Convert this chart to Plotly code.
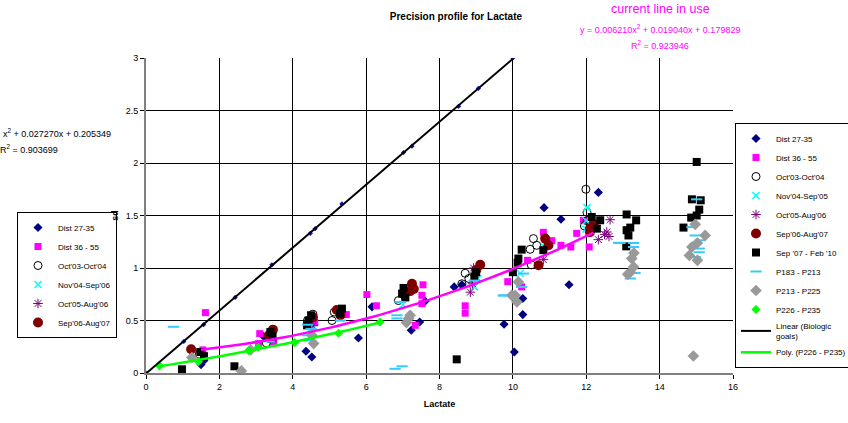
import numpy as np
import plotly.graph_objects as go

# ---------------- data ----------------
dist2735_x = [1.5, 1.58, 3.2, 4.36, 4.52, 5.79, 6.16, 7.23, 7.46, 7.61, 8.4, 8.61, 9.76, 10.04, 10.27, 10.27, 10.85, 11.31, 11.53, 12.33]
dist2735_y = [0.08, 0.12, 0.35, 0.207, 0.152, 0.333, 0.63, 0.407, 0.486, 0.683, 0.82, 0.84, 0.464, 0.2, 0.556, 0.71, 1.575, 1.464, 0.84, 1.72]

goals_x = [0, 1.03, 1.57, 2.43, 3.43, 4.48, 4.61, 5.34, 7.02, 7.25, 8.52, 9.06, 10.0]
goals_y = [0, 0.3, 0.46, 0.72, 1.03, 1.33, 1.375, 1.61, 2.1, 2.16, 2.54, 2.71, 3.0]

dist3655_x = [1.62, 1.55, 3.1, 3.07, 3.48, 4.6, 5.46, 6.02, 6.28, 7.55, 7.52, 7.52, 7.34, 8.7, 8.7, 9.86, 10.24, 10.4, 10.83, 11.06, 11.31, 11.58, 11.74, 11.92, 12.08]
dist3655_y = [0.575, 0.22, 0.375, 0.28, 0.295, 0.48, 0.556, 0.747, 0.64, 0.84, 0.74, 0.66, 0.454, 0.64, 0.57, 0.87, 0.82, 1.073, 1.34, 1.26, 1.216, 1.2, 1.33, 1.454, 1.2]

oct03_x = [1.45, 3.28, 3.35, 4.55, 4.4, 5.07, 5.13, 6.88, 7.0, 8.61, 8.7, 8.8, 10.5, 10.47, 10.65, 10.56, 11.99, 12.02, 12.02, 11.95]
oct03_y = [0.18, 0.286, 0.33, 0.56, 0.5, 0.5, 0.58, 0.69, 0.75, 0.85, 0.95, 0.9, 1.03, 1.178, 1.216, 1.28, 1.75, 1.53, 1.45, 1.4]

nov04_x = [3.4, 4.5, 5.3, 7.0, 8.95, 9.05, 10.86, 10.2, 12.02, 11.99, 12.0]
nov04_y = [0.35, 0.42, 0.52, 0.65, 0.82, 0.9, 1.2, 0.95, 1.575, 1.37, 1.45]

oct05_x = [3.45, 4.55, 8.93, 8.84, 8.9, 10.83, 12.65, 12.56, 12.62, 12.33, 12.5]
oct05_y = [0.33, 0.45, 1.0, 0.77, 0.85, 1.08, 1.46, 1.343, 1.3, 1.27, 1.32]

sep06_x = [1.23, 3.46, 3.35, 4.55, 5.2, 5.3, 7.25, 7.3, 7.2, 9.11, 9.0, 10.88, 10.97, 10.7, 12.1, 12.2, 12.1]
sep06_y = [0.226, 0.413, 0.36, 0.53, 0.6, 0.55, 0.85, 0.8, 0.78, 1.03, 0.98, 1.28, 1.216, 1.026, 1.375, 1.42, 1.34]

sep07_x = [0.98, 1.48, 1.58, 2.41, 3.39, 3.45, 4.43, 4.39, 4.5, 5.34, 5.29, 7.02, 6.98, 7.07, 8.47, 9.0, 8.95,
           10.24, 10.15, 10.13, 10.0, 10.83, 12.38, 12.29, 12.15, 13.1, 13.36, 13.2, 13.1, 13.15, 13.09,
           15.01, 14.88, 15.12, 15.08, 15.01, 14.86, 14.65]
sep07_y = [0.035, 0.2, 0.16, 0.064, 0.39, 0.35, 0.5, 0.454, 0.55, 0.613, 0.566, 0.81, 0.756, 0.72, 0.13, 0.96, 0.92,
           1.175, 1.09, 1.05, 0.96, 1.17, 1.455, 1.375, 1.486, 1.51, 1.454, 1.385, 1.36, 1.31, 1.206,
           2.01, 1.654, 1.645, 1.556, 1.5, 1.48, 1.385]

p183_x = [0.75, 3.35, 4.4, 4.4, 4.45, 4.5, 5.3, 6.93, 6.84, 6.84, 6.79, 6.98, 8.95, 9.76, 10.29, 10.24, 9.74,
          12.88, 12.92, 13.29, 13.29, 13.33, 13.2, 15.01, 14.97, 15.1, 15.08, 15.08, 14.97, 14.88]
p183_y = [0.44, 0.3, 0.46, 0.36, 0.31, 0.42, 0.5, 0.676, 0.55, 0.52, 0.04, 0.064, 0.88, 0.74, 0.947, 0.82, 0.737,
          1.24, 1.238, 1.238, 1.2, 0.952, 0.9, 1.654, 1.31, 1.264, 1.185, 1.15, 1.105, 1.39]

p213_x = [1.25, 2.6, 2.85, 4.57, 4.52, 7.16, 7.1, 7.2, 10.15, 10.06, 10.11, 9.97, 13.3, 13.24, 13.29, 13.2, 13.13,
          14.97, 15.24, 15.03, 14.88, 14.81, 15.03, 14.92]
p213_y = [0.147, 0.02, 0.22, 0.28, 0.36, 0.52, 0.48, 0.55, 0.867, 0.74, 0.676, 0.74, 1.143, 1.09, 1.01, 0.96, 0.94,
          1.416, 1.31, 1.238, 1.2, 1.12, 1.073, 0.162]

p226_x = [0.37, 1.43, 2.8, 3.06, 4.05, 5.25, 6.38]
p226_y = [0.068, 0.108, 0.212, 0.245, 0.29, 0.378, 0.486]

# coefficients of the "current line in use" (as printed on the chart)
current_coef = [0.006210, 0.019040, 0.179829]
current_range = [1.5, 12.2]

x_ticks = [0, 2, 4, 6, 8, 10, 12, 14, 16]
y_ticks = [0, 0.5, 1, 1.5, 2, 2.5, 3]

FONT = "Liberation Sans, Arial, sans-serif"

fig = go.Figure()

def add_series(name, x, y, symbol, color, size, lw=0):
    fig.add_trace(go.Scatter(
        x=x, y=y, mode="markers", name=name,
        marker=dict(symbol=symbol, color=color, size=size,
                    line=dict(width=lw, color=color)),
        legend="legend"))

# biologic goals points (no own legend entry)
fig.add_trace(go.Scatter(x=goals_x, y=goals_y, mode="markers", showlegend=False,
                         marker=dict(symbol="diamond", color="#1010C0", size=4)))

series = [
    ("Dist 27-35", dist2735_x, dist2735_y, "diamond", "#000080", 7, 0),
    ("Dist 36 - 55", dist3655_x, dist3655_y, "square", "#FF00FF", 7, 0),
    ("Oct'03-Oct'04", oct03_x, oct03_y, "circle-open", "#000000", 8, 1),
    ("Nov'04-Sep'05", nov04_x, nov04_y, "x-thin-open", "#00FFFF", 7, 1.5),
    ("Oct'05-Aug'06", oct05_x, oct05_y, "asterisk-open", "#800080", 8, 1),
    ("Sep'06-Aug'07", sep06_x, sep06_y, "circle", "#800000", 10, 0),
    ("Sep '07 - Feb '10", sep07_x, sep07_y, "square", "#000000", 8, 0),
    ("P183 - P213", p183_x, p183_y, "line-ew-open", "#33CCFF", 8, 2),
    ("P213 - P225", p213_x, p213_y, "diamond", "#999999", 9, 0),
    ("P226 - P235", p226_x, p226_y, "diamond", "#00FF00", 7, 0),
]
for s in series:
    add_series(*s)

# trendlines
lin = np.polyfit(goals_x, goals_y, 1)
lx = np.linspace(0, 10, 2)
fig.add_trace(go.Scatter(x=lx, y=np.polyval(lin, lx), mode="lines",
                         name="Linear (Biologic<br>goals)", line=dict(color="#000000", width=2)))

pol = np.polyfit(p226_x, p226_y, 2)
px_ = np.linspace(min(p226_x), max(p226_x), 60)
fig.add_trace(go.Scatter(x=px_, y=np.polyval(pol, px_), mode="lines",
                         name="Poly. (P226 - P235)", line=dict(color="#00FF00", width=2.5)))

cx = np.linspace(current_range[0], current_range[1], 80)
fig.add_trace(go.Scatter(x=cx, y=np.polyval(current_coef, cx), mode="lines", showlegend=False,
                         line=dict(color="#FF00FF", width=2.5)))

# second (left) legend entries
left = [
    ("Dist 27-35", "diamond", "#000080", 7, 0),
    ("Dist 36 - 55", "square", "#FF00FF", 7, 0),
    ("Oct'03-Oct'04", "circle-open", "#000000", 8, 1),
    ("Nov'04-Sep'06", "x-thin-open", "#00FFFF", 7, 1.5),
    ("Oct'05-Aug'06", "asterisk-open", "#800080", 8, 1),
    ("Sep'06-Aug'07", "circle", "#800000", 10, 0),
]
for name, sym, col, sz, lw in left:
    fig.add_trace(go.Scatter(x=[None], y=[None], mode="markers", name=name, legend="legend2",
                             marker=dict(symbol=sym, color=col, size=sz, line=dict(width=lw, color=col))))

axis_common = dict(showgrid=True, gridcolor="#000000", gridwidth=1, showline=True,
                   linecolor="#808080", linewidth=2, ticks="outside", ticklen=4,
                   tickcolor="#000000", zeroline=False,
                   tickfont=dict(family=FONT, size=9, color="#000"))

fig.update_layout(
    width=848, height=423,
    margin=dict(l=146, r=115, t=58, b=50, autoexpand=False),
    paper_bgcolor="white", plot_bgcolor="white",
    font=dict(family=FONT, size=9, color="#000"),
    title=dict(text="<b>Precision profile for Lactate</b>", x=0.528, xref="paper",
               y=1 - 16 / 423, yanchor="middle", xanchor="center",
               font=dict(family=FONT, size=10, color="#000")),
    xaxis=dict(range=[0, 16], tickvals=x_ticks, ticktext=[str(v) for v in x_ticks],
               title=dict(text="<b>Lactate</b>", font=dict(size=9), standoff=10), **axis_common),
    yaxis=dict(range=[0, 3], tickvals=y_ticks, ticktext=["0", "0.5", "1", "1.5", "2", "2.5", "3"],
               title=dict(text="<b>sd</b>", font=dict(size=9), standoff=6), **axis_common),
    legend=dict(x=(735 - 146) / 587, y=(372.7 - 122.7) / 315, xanchor="left", yanchor="top",
                bordercolor="#000", borderwidth=1, bgcolor="white",
                font=dict(family=FONT, size=8, color="#000"), itemwidth=30,
                traceorder="normal"),
    legend2=dict(x=(17 - 146) / 587, y=(372.7 - 211.7) / 315, xanchor="left", yanchor="top",
                 bordercolor="#000", borderwidth=1, bgcolor="white",
                 font=dict(family=FONT, size=8, color="#000"), itemwidth=30),
    showlegend=True,
)

mag = "#FF00FF"
def note(text, px, py, size, color, xanchor="center"):
    fig.add_annotation(text=text, xref="paper", yref="paper", xanchor=xanchor, yanchor="middle",
                       x=(px - 146) / 587, y=(372.7 - py) / 315, showarrow=False,
                       font=dict(family=FONT, size=size, color=color))

note("current line in use", 660, 9, 12.5, mag)
note("y = 0.006210x<sup>2</sup> + 0.019040x + 0.179829", 660, 29, 9, mag)
note("R<sup>2</sup> = 0.923946", 660, 45, 9, mag)
note("x<sup>2</sup> + 0.027270x + 0.205349", 113, 133, 9, "#000", "right")
note("R<sup>2</sup> = 0.903699", 60, 149, 9, "#000", "right")

fig.write_html("out.html", config={"displayModeBar": False},
               post_script="document.body.style.margin='0';")
